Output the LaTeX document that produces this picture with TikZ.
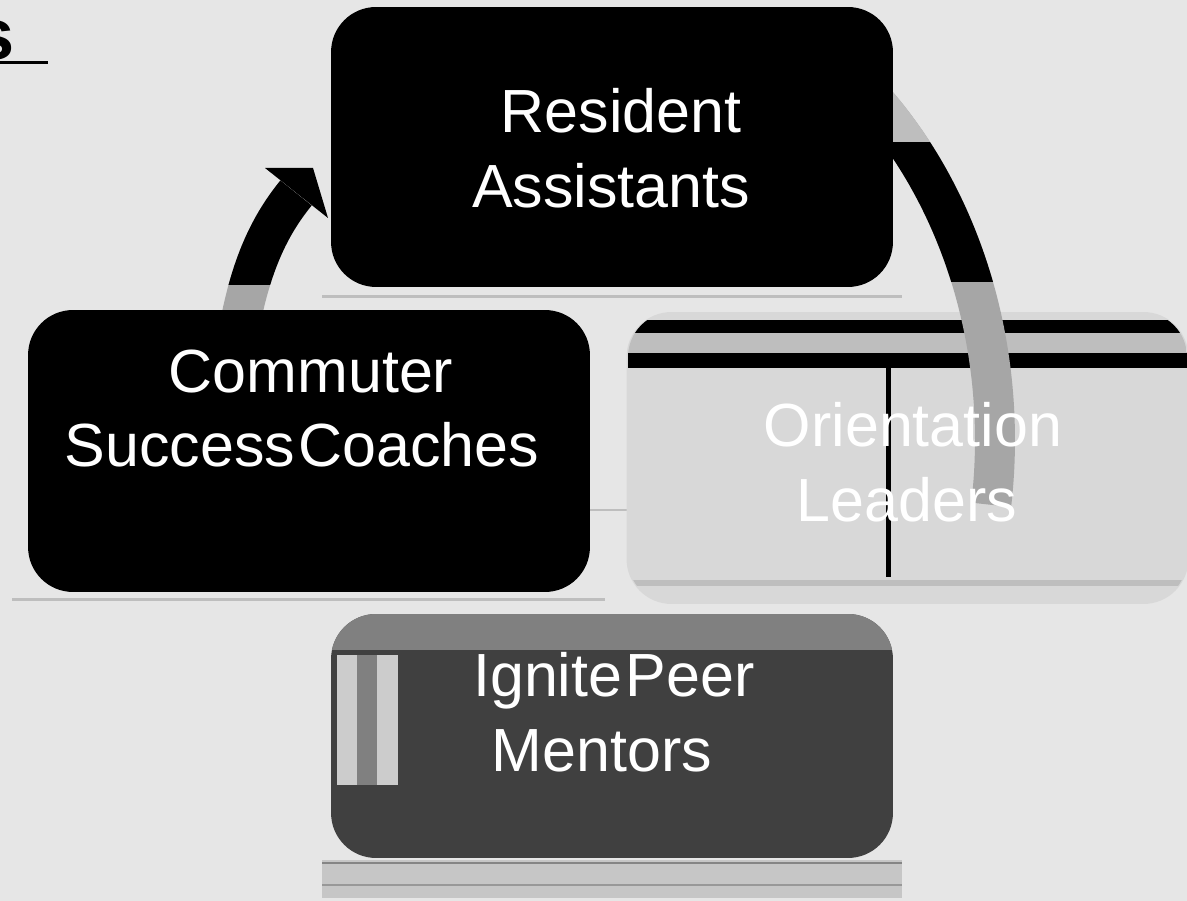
\documentclass[tikz,border=0pt]{standalone}
\usepackage{fontspec}
\setmainfont{Liberation Sans}
\definecolor{bg}{RGB}{230,230,230}
\definecolor{arcgray}{RGB}{166,166,166}
\definecolor{arclight}{RGB}{190,190,190}
\definecolor{olfill}{RGB}{216,216,216}
\definecolor{igfill}{RGB}{64,64,64}
\definecolor{igtop}{RGB}{128,128,128}
\definecolor{band}{RGB}{198,198,198}
\tikzset{
  box/.style={rounded corners=0.9cm, minimum width=11.24cm, inner sep=0pt, draw=none},
  lbl/.style={text=white, inner sep=0pt, anchor=base, font=\fontsize{34.7}{42.7}\selectfont},
  arcbody/.style={line width=0.8cm, line cap=butt},
}
\begin{document}
\begin{tikzpicture}[x=0.02cm, y=-0.02cm]
\useasboundingbox (0,0) rectangle (1187,901);
\fill[bg] (0,0) rectangle (1187,901);

% title fragment
\node[anchor=base east, inner sep=0pt, font=\bfseries\fontsize{41}{44}\selectfont] (title) at (15,60) {s};
\fill[black] (0,61.5) rectangle (48,64);

% thin rule lines
\fill[arclight] (322,295) rectangle (902,298);
\fill[arclight] (12,598) rectangle (605,601);
\fill[arclight] (590,509) rectangle (628,511);

% Orientation Leaders box (drawn beneath the arc)
\node[box, fill=olfill, minimum height=5.84cm] (ol) at (907.5,458) {};
\begin{scope}
  \clip[rounded corners=0.9cm] (628,312) rectangle (1187,604);
  \fill[black] (628,320) rectangle (1187,333);
  \fill[arclight] (628,333) rectangle (1187,353);
  \fill[black] (628,353) rectangle (1187,368);
  \fill[white!85!black] (880,368) rectangle (897,577);
  \fill[black] (886,368) rectangle (891,577);
  \fill[arclight] (628,580) rectangle (1187,586);
\end{scope}

% right arc (Resident Assistants -> Orientation Leaders)
\draw[arcbody, arcgray] plot[domain=-55:8, samples=80, variable=\t] ({610+385*cos(\t)},{440+466*sin(\t)});
\begin{scope}
  \clip (0,0) rectangle (1187,143);
  \draw[arcbody, arclight] plot[domain=-55:8, samples=80, variable=\t] ({610+385*cos(\t)},{440+466*sin(\t)});
\end{scope}
\begin{scope}
  \clip (0,143) rectangle (1187,282);
  \draw[arcbody, black] plot[domain=-55:8, samples=80, variable=\t] ({610+385*cos(\t)},{440+466*sin(\t)});
\end{scope}

% left arc (Commuter Success Coaches -> Resident Assistants)
\coordinate (lstart) at (238,335);
\coordinate (lend) at (296,193);
\draw[arcbody, arcgray] (lstart) .. controls (250,265) and (270,225) .. (lend);
\begin{scope}
  \clip (0,0) rectangle (1187,285);
  \draw[arcbody, black] (lstart) .. controls (250,265) and (270,225) .. (lend);
\end{scope}
\fill[black] (265,168) -- (313,168) -- (328,218) -- cycle;

% Resident Assistants
\node[box, fill=black, minimum height=5.6cm] (ra) at (612,147) {};
\node[lbl] (ra1) at (621,133) {Resident};
\node[lbl] (ra2) at (611,208) {Assistants};

% Commuter Success Coaches
\node[box, fill=black, minimum height=5.64cm] (csc) at (309,451) {};
\node[lbl] (csc1) at (311,393) {Commuter};
\node[lbl] (csc2) at (302,467) {{\spaceskip=0.06em Success Coaches}};

% Orientation Leaders text
\node[lbl] (ol1) at (913,447) {Orientation};
\node[lbl] (ol2) at (907,522) {Leaders};

% band below Ignite box
\fill[band] (322,860) rectangle (902,898);
\fill[arclight!70!black] (322,862) rectangle (902,864);
\fill[arclight!80!black] (322,884) rectangle (902,886);

% Ignite Peer Mentors
\node[box, fill=igfill, minimum height=4.88cm] (ipm) at (612,736) {};
\begin{scope}
  \clip[rounded corners=0.9cm] (331,614) rectangle (893,858);
  \fill[igtop] (331,614) rectangle (893,650);
  \fill[white!80!black] (337,655) rectangle (357,785);
  \fill[igtop] (357,655) rectangle (377,785);
  \fill[white!80!black] (377,655) rectangle (398,785);
\end{scope}
\node[lbl] (ipm1) at (614,697) {{\spaceskip=0.06em Ignite Peer}};
\node[lbl] (ipm2) at (602,772) {Mentors};
\end{tikzpicture}
\end{document}
